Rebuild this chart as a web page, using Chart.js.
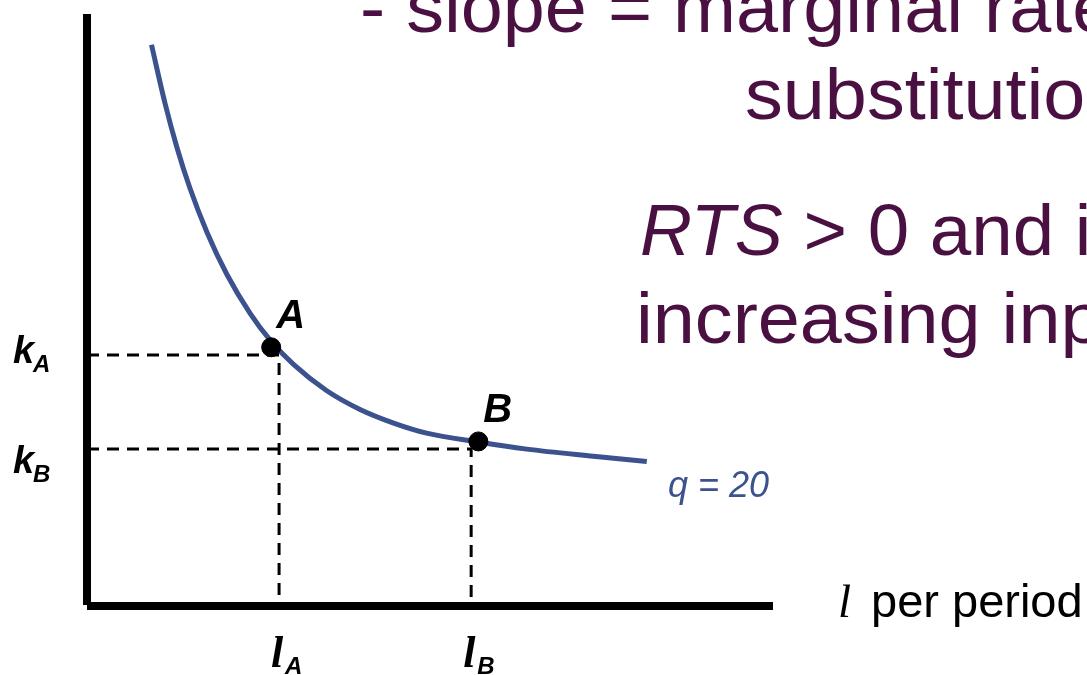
<!DOCTYPE html>
<html>
<head>
<meta charset="utf-8">
<script src="https://cdn.jsdelivr.net/npm/chart.js@4.4.1/dist/chart.umd.min.js"></script>
<style>
  html, body { margin: 0; padding: 0; background: #fff; }
  canvas { display: block; }
</style>
</head>
<body>
<canvas id="chart" width="1087" height="675"></canvas>
<script>
// isoquant q = 20 : labour l (x) against capital k (y)
const isoL = [9.4, 11.4, 13.1, 15.0, 17.5, 20.4, 23.8, 26.7, 30.1, 34.9, 39.8, 44.7, 49.5, 57.0, 64.1, 73.8, 81.6];
const isoK = [94.8, 84.8, 77.5, 70.6, 63.1, 56.0, 49.4, 44.9, 40.8, 36.4, 33.2, 30.9, 29.2, 27.7, 26.5, 25.3, 24.4];
const curveLabel = 'q = 20';

// the two marked input bundles
const pointNames = ['A', 'B'];
const pointL = [26.85, 57.05];
const pointK = [43.7, 27.8];

// dashed guide lines down to the axes
const guideL = [28.0, 56.0];
const guideK = [42.4, 26.5];

const purple = '#4A1042';
const blue = '#3C528E';
const sans = '"Liberation Sans", Arial, sans-serif';
const serif = '"Liberation Serif", "Times New Roman", serif';

const curveData = isoL.map((l, i) => ({ x: l, y: isoK[i] }));
const pointData = pointL.map((l, i) => ({ x: l, y: pointK[i] }));

const guideSets = guideL.map((l, i) => ({
    data: [{ x: 0, y: guideK[i] }, { x: l, y: guideK[i] }, { x: l, y: 0 }],
    borderColor: '#000',
    borderWidth: 3,
    borderDash: [12, 8],
    pointRadius: 0,
    showLine: true,
    order: 3
}));

// some slide lines are set a bit wider than Arial, so stretch them sideways
function wideText(ctx, text, x, y, sx) {
    ctx.save();
    ctx.translate(x, y);
    ctx.scale(sx, 1);
    ctx.fillText(text, 0, 0);
    const w = ctx.measureText(text).width * sx;
    ctx.restore();
    return w;
}

// draws the axes and every piece of text on top of the datasets
const slidePlugin = {
    id: 'slide',
    afterDatasetsDraw(chart) {
        const { ctx, chartArea: area, scales } = chart;
        const xs = scales.x, ys = scales.y;
        ctx.save();

        // axes
        ctx.strokeStyle = '#000';
        ctx.lineWidth = 8;
        ctx.lineCap = 'butt';
        ctx.beginPath();
        ctx.moveTo(area.left, area.top);
        ctx.lineTo(area.left, area.bottom - 1);
        ctx.moveTo(area.left, area.bottom);
        ctx.lineTo(area.right, area.bottom);
        ctx.stroke();

        ctx.textBaseline = 'alphabetic';
        ctx.textAlign = 'left';

        // point names
        ctx.fillStyle = '#000';
        ctx.font = 'bold italic 40px ' + sans;
        pointNames.forEach((name, i) => {
            ctx.fillText(name, xs.getPixelForValue(pointL[i]) + 5, ys.getPixelForValue(pointK[i]) - 19);
        });

        // k labels on the vertical axis
        const kOffsets = [8, 24];
        pointNames.forEach((name, i) => {
            const base = ys.getPixelForValue(guideK[i]) + kOffsets[i];
            ctx.font = 'bold italic 38px ' + sans;
            ctx.fillText('k', 13, base);
            ctx.font = 'bold italic 24px ' + sans;
            ctx.fillText(name, 33, base + 9);
        });

        // l labels under the horizontal axis
        pointNames.forEach((name, i) => {
            const px = xs.getPixelForValue(guideL[i]);
            ctx.font = 'bold italic 44px ' + serif;
            ctx.fillText('l', px - 8, 667);
            ctx.font = 'bold italic 24px ' + sans;
            ctx.fillText(name, px + 6, 674);
        });

        // curve label
        ctx.fillStyle = blue;
        ctx.font = 'italic 36px ' + sans;
        ctx.fillText(curveLabel, 668, 497);

        // axis title
        ctx.fillStyle = '#000';
        ctx.font = 'italic 47px ' + serif;
        ctx.fillText('l', 838, 617);
        ctx.font = '47px ' + sans;
        ctx.fillText('per period', 871, 617);

        // slide text
        const sx = 1.05;
        ctx.fillStyle = purple;
        ctx.font = '72px ' + sans;
        wideText(ctx, '- slope = marginal rate of technical', 360, 32, sx);
        wideText(ctx, 'substitution (RTS)', 745, 119, sx);
        wideText(ctx, 'increasing inputs of labor', 636, 343, sx);
        ctx.font = 'italic 72px ' + sans;
        ctx.fillText('RTS', 640, 255);
        const w = ctx.measureText('RTS').width;
        ctx.font = '72px ' + sans;
        wideText(ctx, ' > 0 and is diminishing for', 640 + w, 255, 1.035);

        ctx.restore();
    }
};

const ctx = document.getElementById('chart').getContext('2d');
const chart = new Chart(ctx, {
    type: 'scatter',
    data: {
        datasets: [
            {
                data: pointData,
                backgroundColor: '#000',
                borderColor: '#000',
                pointRadius: 9.5,
                pointHoverRadius: 9.5,
                order: 1
            },
            {
                data: curveData,
                showLine: true,
                borderColor: blue,
                borderWidth: 5,
                pointRadius: 0,
                cubicInterpolationMode: 'monotone',
                order: 2
            },
            ...guideSets
        ]
    },
    options: {
        responsive: false,
        devicePixelRatio: 1,
        animation: false,
        layout: { padding: { left: 87, right: 314, top: 14, bottom: 69 } },
        scales: {
            x: { type: 'linear', min: 0, max: 100, display: false },
            y: { type: 'linear', min: 0, max: 100, display: false }
        },
        plugins: {
            legend: { display: false },
            tooltip: { enabled: false }
        }
    },
    plugins: [slidePlugin]
});
</script>
</body>
</html>
